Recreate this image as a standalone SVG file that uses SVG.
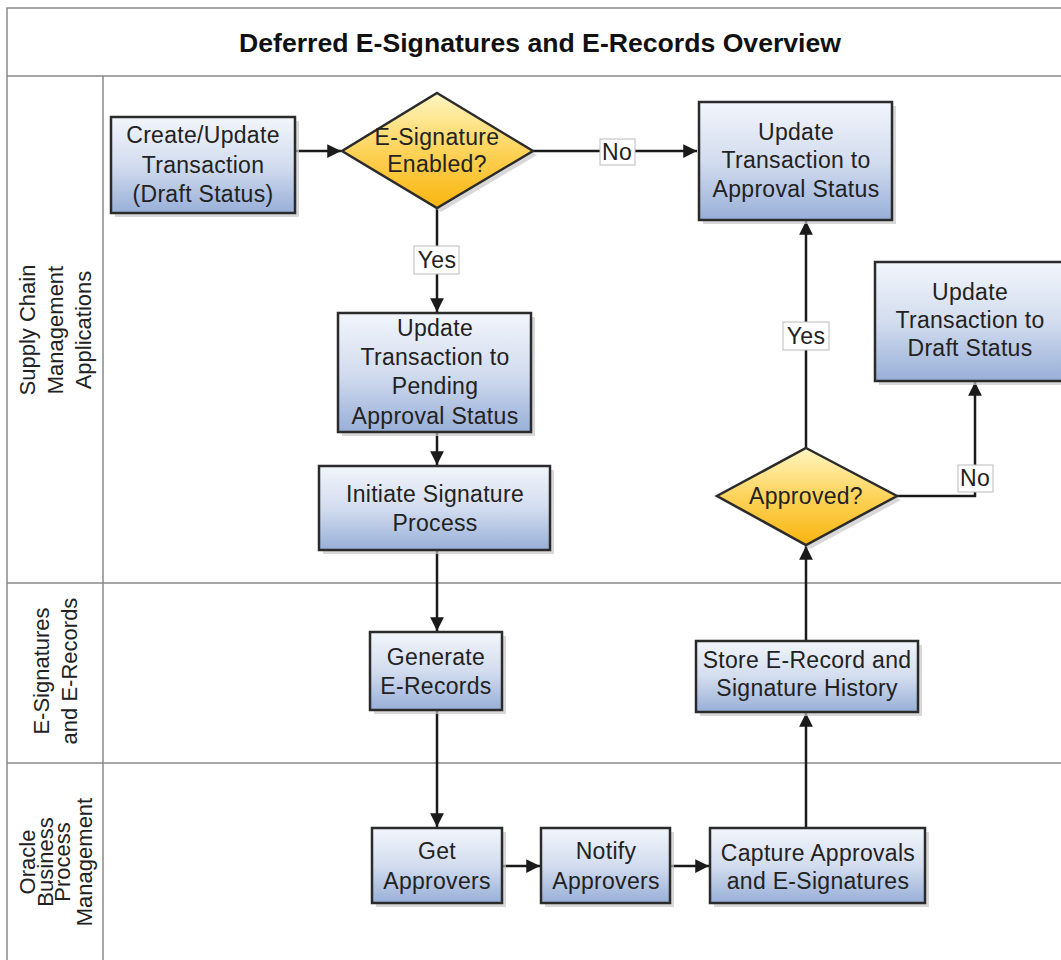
<svg xmlns="http://www.w3.org/2000/svg" width="1061" height="960" viewBox="0 0 1061 960">
<defs>
<linearGradient id="gBox" x1="0" y1="0" x2="0" y2="1">
<stop offset="0" stop-color="#f2f5fb"/>
<stop offset="0.5" stop-color="#d3ddef"/>
<stop offset="1" stop-color="#98afd8"/>
</linearGradient>
<linearGradient id="gDia" x1="0" y1="0" x2="0" y2="1">
<stop offset="0" stop-color="#fff6c2"/>
<stop offset="0.5" stop-color="#fdd35a"/>
<stop offset="1" stop-color="#f9b50f"/>
</linearGradient>
<marker id="arr" viewBox="0 0 10 10" refX="10" refY="5" markerWidth="5.5" markerHeight="5.5" orient="auto" markerUnits="strokeWidth">
<path d="M0,0 L10,5 L0,10 z" fill="#1a1a1a"/>
</marker>
<style>
.box{fill:url(#gBox);stroke:#2b2b2b;stroke-width:2.5}
.dia{fill:url(#gDia);stroke:#2b2b2b;stroke-width:2.5}
.sh{fill:#c8c8c8;opacity:0.7}
.t{font-family:"Liberation Sans",Arial,sans-serif;font-size:23px;letter-spacing:0.3px;fill:#222;text-anchor:middle}
.lane{font-family:"Liberation Sans",Arial,sans-serif;font-size:22px;fill:#222;text-anchor:middle}
.ttl{font-family:"Liberation Sans",Arial,sans-serif;font-size:25px;font-weight:bold;fill:#111;text-anchor:middle}
.c{fill:none;stroke:#1a1a1a;stroke-width:2.5}
.ca{fill:none;stroke:#1a1a1a;stroke-width:2.5;marker-end:url(#arr)}
.lb{fill:#fff;stroke:#bbb;stroke-width:1}
.grid{fill:none;stroke:#8a8a8a;stroke-width:1.5}
</style>
</defs>
<rect width="1061" height="960" fill="#fff"/>
<g id="frame">
<path class="grid" d="M7,960 V8 H1061"/>
<path class="grid" d="M7,76 H1061"/>
<path class="grid" d="M103,76 V960"/>
<path class="grid" d="M7,583 H1061"/>
<path class="grid" d="M7,763 H1061"/>
<text class="ttl" x="540" y="52" textLength="602" lengthAdjust="spacingAndGlyphs">Deferred E-Signatures and E-Records Overview</text>
</g>
<g id="lanes">
<text class="lane" transform="translate(55,330) rotate(-90)"><tspan x="0" y="-20">Supply Chain</tspan><tspan x="0" y="8">Management</tspan><tspan x="0" y="36">Applications</tspan></text>
<text class="lane" transform="translate(55,671) rotate(-90)"><tspan x="0" y="-6">E-Signatures</tspan><tspan x="0" y="22">and E-Records</tspan></text>
<text class="lane" transform="translate(55,862) rotate(-90)"><tspan x="0" y="-20">Oracle</tspan><tspan x="0" y="-2">Business</tspan><tspan x="0" y="15">Process</tspan><tspan x="0" y="37">Management</tspan></text>
</g>
<g id="connectors">
<path class="ca" d="M295,151 H341"/>
<path class="ca" d="M533,151 H697"/>
<path class="ca" d="M437,208 V312"/>
<path class="ca" d="M437,432 V465"/>
<path class="ca" d="M437,550 V631"/>
<path class="ca" d="M437,710 V827"/>
<path class="ca" d="M502,866 H540"/>
<path class="ca" d="M670,866 H709"/>
<path class="ca" d="M806,828 V713"/>
<path class="ca" d="M806,641 V546"/>
<path class="ca" d="M806,448 V221"/>
<path class="ca" d="M897,496 H975 V382"/>
<rect class="lb" x="600" y="139" width="35" height="26"/>
<text class="t" x="617" y="160">No</text>
<rect class="lb" x="414" y="246" width="45" height="28"/>
<text class="t" x="437" y="268">Yes</text>
<rect class="lb" x="783" y="322" width="46" height="28"/>
<text class="t" x="806" y="344">Yes</text>
<rect class="lb" x="958" y="465" width="35" height="27"/>
<text class="t" x="975" y="486">No</text>
</g>
<g id="n1">
<rect class="sh" x="115" y="121" width="184" height="96"/>
<rect class="box" x="111" y="117" width="184" height="96"/>
<text class="t" x="203" y="143">Create/Update</text>
<text class="t" x="203" y="173">Transaction</text>
<text class="t" x="203" y="202">(Draft Status)</text>
</g>
<g id="d1">
<polygon class="sh" points="441,97 537,155 441,212 346,155"/>
<polygon class="dia" points="437,93 533,151 437,208 342,151"/>
<text class="t" x="437" y="145">E-Signature</text>
<text class="t" x="437" y="172">Enabled?</text>
</g>
<g id="n2">
<rect class="sh" x="703" y="106" width="193" height="118"/>
<rect class="box" x="699" y="102" width="193" height="118"/>
<text class="t" x="796" y="140">Update</text>
<text class="t" x="796" y="168">Transaction to</text>
<text class="t" x="796" y="197">Approval Status</text>
</g>
<g id="n3">
<rect class="sh" x="342" y="317" width="193" height="119"/>
<rect class="box" x="338" y="313" width="193" height="119"/>
<text class="t" x="435" y="336">Update</text>
<text class="t" x="435" y="365">Transaction to</text>
<text class="t" x="435" y="394">Pending</text>
<text class="t" x="435" y="424">Approval Status</text>
</g>
<g id="n4">
<rect class="sh" x="323" y="470" width="231" height="84"/>
<rect class="box" x="319" y="466" width="231" height="84"/>
<text class="t" x="435" y="502">Initiate Signature</text>
<text class="t" x="435" y="531">Process</text>
</g>
<g id="n5">
<rect class="sh" x="374" y="636" width="132" height="78"/>
<rect class="box" x="370" y="632" width="132" height="78"/>
<text class="t" x="436" y="665">Generate</text>
<text class="t" x="436" y="694">E-Records</text>
</g>
<g id="n6">
<rect class="sh" x="376" y="832" width="130" height="75"/>
<rect class="box" x="372" y="828" width="130" height="75"/>
<text class="t" x="437" y="859">Get</text>
<text class="t" x="437" y="889">Approvers</text>
</g>
<g id="n7">
<rect class="sh" x="545" y="832" width="129" height="75"/>
<rect class="box" x="541" y="828" width="129" height="75"/>
<text class="t" x="606" y="859">Notify</text>
<text class="t" x="606" y="889">Approvers</text>
</g>
<g id="n8">
<rect class="sh" x="714" y="832" width="215" height="75"/>
<rect class="box" x="710" y="828" width="215" height="75"/>
<text class="t" x="818" y="861">Capture Approvals</text>
<text class="t" x="818" y="889">and E-Signatures</text>
</g>
<g id="n9">
<rect class="sh" x="700" y="645" width="222" height="71"/>
<rect class="box" x="696" y="641" width="222" height="71"/>
<text class="t" x="807" y="668">Store E-Record and</text>
<text class="t" x="807" y="696">Signature History</text>
</g>
<g id="d2">
<polygon class="sh" points="810,452 901,500 810,549 721,500"/>
<polygon class="dia" points="806,448 897,496 806,545 717,496"/>
<text class="t" x="806" y="504">Approved?</text>
</g>
<g id="n10">
<rect class="sh" x="879" y="266" width="192" height="119"/>
<rect class="box" x="875" y="262" width="192" height="119"/>
<text class="t" x="970" y="300">Update</text>
<text class="t" x="970" y="328">Transaction to</text>
<text class="t" x="970" y="356">Draft Status</text>
</g>
</svg>
